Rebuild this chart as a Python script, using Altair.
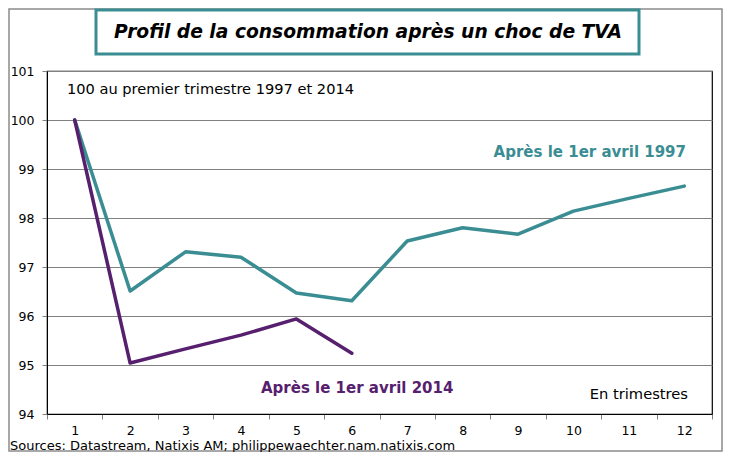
import altair as alt
import pandas as pd

quarters = list(range(1, 13))
serie_1997 = [100.0, 96.51, 97.31, 97.20, 96.47, 96.31, 97.53, 97.80, 97.67, 98.14, 98.40, 98.65]
quarters_2014 = list(range(1, 7))
serie_2014 = [100.0, 95.04, 95.33, 95.61, 95.94, 95.24]

TEAL = "#3a8d92"
PURPLE = "#57206e"
FONT = "DejaVu Sans"

rows = []
for q, v in zip(quarters, serie_1997):
    rows.append({"trimestre": str(q), "valeur": v, "serie": "1997"})
for q, v in zip(quarters_2014, serie_2014):
    rows.append({"trimestre": str(q), "valeur": v, "serie": "2014"})
df = pd.DataFrame(rows)

order = [str(q) for q in quarters]

x = alt.X("trimestre:O", sort=order,
          scale=alt.Scale(type="band", domain=order, paddingInner=0, paddingOuter=0),
          axis=alt.Axis(title=None, labelAngle=0, tickBand="extent", grid=False,
                        domainColor="#000000", tickColor="#808080", tickSize=5,
                        labelFont=FONT, labelFontSize=12.5, labelColor="#000000",
                        labelPadding=5))
y = alt.Y("valeur:Q", scale=alt.Scale(domain=[94, 101], nice=False, zero=False),
          axis=alt.Axis(title=None, values=[94, 95, 96, 97, 98, 99, 100, 101],
                        grid=True, gridColor="#808080", gridWidth=1.2,
                        domainColor="#000000", tickColor="#808080", tickSize=5,
                        labelFont=FONT, labelFontSize=12.5, labelColor="#000000",
                        labelPadding=8))

lines = alt.Chart(df).mark_line(strokeWidth=3.5, strokeCap="round", strokeJoin="round").encode(
    x=x, y=y,
    color=alt.Color("serie:N", scale=alt.Scale(domain=["1997", "2014"], range=[TEAL, PURPLE]),
                    legend=None),
    order=alt.Order("serie:N"),
)

def txt(text, px, py, size=13, weight="normal", color="#000000", align="left", italic=False):
    return alt.Chart(pd.DataFrame({"t": [text]})).mark_text(
        align=align, baseline="middle", font=FONT, fontSize=size, fontWeight=weight,
        fontStyle="italic" if italic else "normal", color=color,
    ).encode(text="t:N", x=alt.value(px), y=alt.value(py))

outer = alt.Chart(pd.DataFrame({"a": [0]})).mark_rect(
    fill=None, stroke="#8c8c8c", strokeWidth=1.5
).encode(x=alt.value(-38), x2=alt.value(675), y=alt.value(-62), y2=alt.value(380))

title_box = alt.Chart(pd.DataFrame({"a": [0]})).mark_rect(
    fill="#ffffff", stroke=TEAL, strokeWidth=3
).encode(x=alt.value(49), x2=alt.value(592), y=alt.value(-61), y2=alt.value(-17))

title = txt("Profil de la consommation après un choc de TVA", 321, -39, size=18.7,
            weight="bold", italic=True, align="center")

note = txt("100 au premier trimestre 1997 et 2014", 20, 19, size=14.6)
lab97 = txt("Après le 1er avril 1997", 639, 81, size=15, weight="bold", color=TEAL, align="right")
lab14 = txt("Après le 1er avril 2014", 214, 317, size=15, weight="bold", color=PURPLE)
unit = txt("En trimestres", 641, 324, size=14.7, align="right")
source = txt("Sources: Datastream,  Natixis AM; philippewaechter.nam.natixis.com", -37, 374.5, size=13)

chart = alt.layer(outer, title_box, title, lines, note, lab97, lab14, unit, source).properties(
    width=665, height=343,
    autosize=alt.AutoSizeParams(type="none"),
    padding={"left": 39, "top": 63, "right": 11, "bottom": 38},
).configure_view(stroke="#000000", strokeWidth=1.2)

chart.save("out.html", embed_options={"renderer": "svg", "actions": False})
